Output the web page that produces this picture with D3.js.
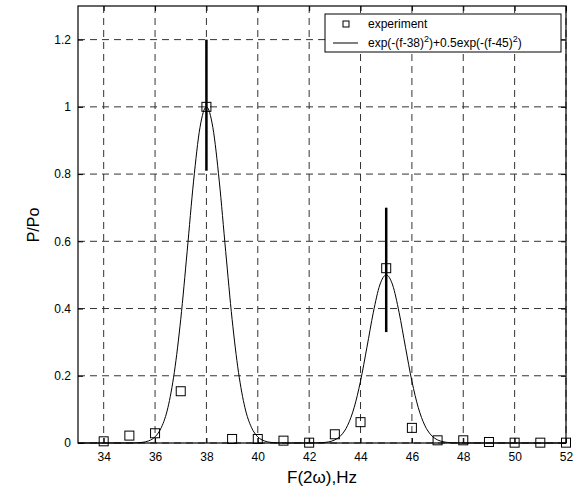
<!DOCTYPE html>
<html>
<head>
<meta charset="utf-8">
<script src="https://cdn.jsdelivr.net/npm/d3@7"></script>
<style>
  body { margin: 0; background: #fff; }
  svg { display: block; font-family: "Liberation Sans", Arial, sans-serif; }
</style>
</head>
<body>
<svg width="575" height="489"></svg>
<script>
// measured points
const expF = [34, 35, 36, 37, 38, 39, 40, 41, 42, 43, 44, 45, 46, 47, 48, 49, 50, 51, 52];
const expP = [0.005, 0.022, 0.029, 0.154, 1.0, 0.012, 0.012, 0.007, 0.001, 0.026, 0.062, 0.52, 0.045, 0.008, 0.008, 0.003, 0.001, 0.001, 0.001];

// error bars (f, low, high)
const errF = [38, 45];
const errLow = [0.81, 0.33];
const errHigh = [1.2, 0.70];

// fitted curve
const curveF = [33, 35, 35.25, 35.5, 35.75, 36, 36.25, 36.5, 36.75, 37, 37.25, 37.5, 37.75, 38,
  38.25, 38.5, 38.75, 39, 39.25, 39.5, 39.75, 40, 40.25, 40.5, 40.75, 41,
  42, 42.25, 42.5, 42.75, 43, 43.25, 43.5, 43.75, 44, 44.25, 44.5, 44.75, 45,
  45.25, 45.5, 45.75, 46, 46.25, 46.5, 46.75, 47, 47.25, 47.5, 47.75, 48, 52];
const curveP = [0, 0.0001, 0.0005, 0.0019, 0.0063, 0.0183, 0.0468, 0.105, 0.210, 0.368, 0.570, 0.779, 0.939, 1.0,
  0.939, 0.779, 0.570, 0.368, 0.210, 0.105, 0.0468, 0.0183, 0.0063, 0.0019, 0.0005, 0.0001,
  0.00006, 0.0003, 0.001, 0.0032, 0.0092, 0.0234, 0.0527, 0.105, 0.184, 0.285, 0.389, 0.470, 0.5,
  0.470, 0.389, 0.285, 0.184, 0.105, 0.0527, 0.0234, 0.0092, 0.0032, 0.001, 0.0003, 0.00006, 0];

const xTicks = [34, 36, 38, 40, 42, 44, 46, 48, 50, 52];
const yTicks = [0, 0.2, 0.4, 0.6, 0.8, 1, 1.2];
const legendLabels = ["experiment", "exp(-(f-38)<sup>2</sup>)+0.5exp(-(f-45)<sup>2</sup>)"];

const svg = d3.select("svg");
const margin = {top: 6, right: 9, bottom: 46, left: 78};
const width = 575 - margin.left - margin.right,
      height = 489 - margin.top - margin.bottom;

const g = svg.append("g").attr("transform", `translate(${margin.left},${margin.top})`);

const x = d3.scaleLinear().domain([33, 52]).range([0, width]);
const y = d3.scaleLinear().domain([0, 1.3]).range([height, 0]);

// grid
g.append("g").selectAll("line").data(xTicks).join("line")
  .attr("x1", d => x(d)).attr("x2", d => x(d))
  .attr("y1", 0).attr("y2", height)
  .attr("stroke", "#333").attr("stroke-dasharray", "7,5");
g.append("g").selectAll("line").data(yTicks).join("line")
  .attr("x1", 0).attr("x2", width)
  .attr("y1", d => y(d)).attr("y2", d => y(d))
  .attr("stroke", "#333").attr("stroke-dasharray", "7,5");

// axes, ticks inward
const fmtY = d => d === 0 ? "0" : d3.format("")(+d.toFixed(1));
const xAxis = g.append("g").attr("transform", `translate(0,${height})`)
  .call(d3.axisBottom(x).tickValues(xTicks).tickSize(-5).tickPadding(9).tickSizeOuter(0));
const yAxis = g.append("g")
  .call(d3.axisLeft(y).tickValues(yTicks).tickFormat(fmtY).tickSize(-5).tickPadding(7).tickSizeOuter(0));
g.append("g").call(d3.axisTop(x).tickValues(xTicks).tickSize(-5).tickFormat("").tickSizeOuter(0));
g.append("g").attr("transform", `translate(${width},0)`)
  .call(d3.axisRight(y).tickValues(yTicks).tickSize(-5).tickFormat("").tickSizeOuter(0));
g.selectAll(".domain").remove();
g.selectAll(".tick line").attr("stroke", "#000");
g.selectAll(".tick text").attr("font-size", 12).attr("fill", "#000")
  .attr("font-family", "'Liberation Sans', Arial, sans-serif");

g.append("rect").attr("width", width).attr("height", height)
  .attr("fill", "none").attr("stroke", "#000").attr("stroke-width", 1.2);

// curve
const line = d3.line().x((d, i) => x(curveF[i])).y(d => y(d)).curve(d3.curveMonotoneX);
g.append("path").datum(curveP)
  .attr("fill", "none").attr("stroke", "#000").attr("stroke-width", 1)
  .attr("d", line);

// error bars
g.append("g").selectAll("line").data(errF).join("line")
  .attr("x1", d => x(d)).attr("x2", d => x(d))
  .attr("y1", (d, i) => y(errLow[i])).attr("y2", (d, i) => y(errHigh[i]))
  .attr("stroke", "#000").attr("stroke-width", 2.5);

// squares
const s = 9;
g.append("g").selectAll("rect").data(expP).join("rect")
  .attr("x", (d, i) => x(expF[i]) - s / 2)
  .attr("y", d => y(d) - s / 2)
  .attr("width", s).attr("height", s)
  .attr("fill", "none").attr("stroke", "#000").attr("stroke-width", 1);

// legend
const lg = svg.append("g").attr("transform", "translate(325,14)");
lg.append("rect").attr("width", 236).attr("height", 38)
  .attr("fill", "#fff").attr("stroke", "#000").attr("stroke-width", 1);
lg.append("rect").attr("x", 18).attr("y", 7).attr("width", 6).attr("height", 6)
  .attr("fill", "none").attr("stroke", "#000");
lg.append("line").attr("x1", 8).attr("x2", 33).attr("y1", 29).attr("y2", 29)
  .attr("stroke", "#000");
lg.append("text").attr("x", 43).attr("y", 14).attr("font-size", 12).text(legendLabels[0]);
const t2 = lg.append("text").attr("x", 43).attr("y", 33).attr("font-size", 12);
t2.append("tspan").text("exp(-(f-38)");
t2.append("tspan").attr("dy", -5).attr("font-size", 9).text("2");
t2.append("tspan").attr("dy", 5).text(")+0.5exp(-(f-45)");
t2.append("tspan").attr("dy", -5).attr("font-size", 9).text("2");
t2.append("tspan").attr("dy", 5).text(")");

// axis labels
svg.append("text").attr("x", 322).attr("y", 483).attr("text-anchor", "middle")
  .attr("font-size", 17).text("F(2ω),Hz");
svg.append("text").attr("transform", "translate(39,225) rotate(-90)")
  .attr("text-anchor", "middle").attr("font-size", 16).text("P/Po");
</script>
</body>
</html>
